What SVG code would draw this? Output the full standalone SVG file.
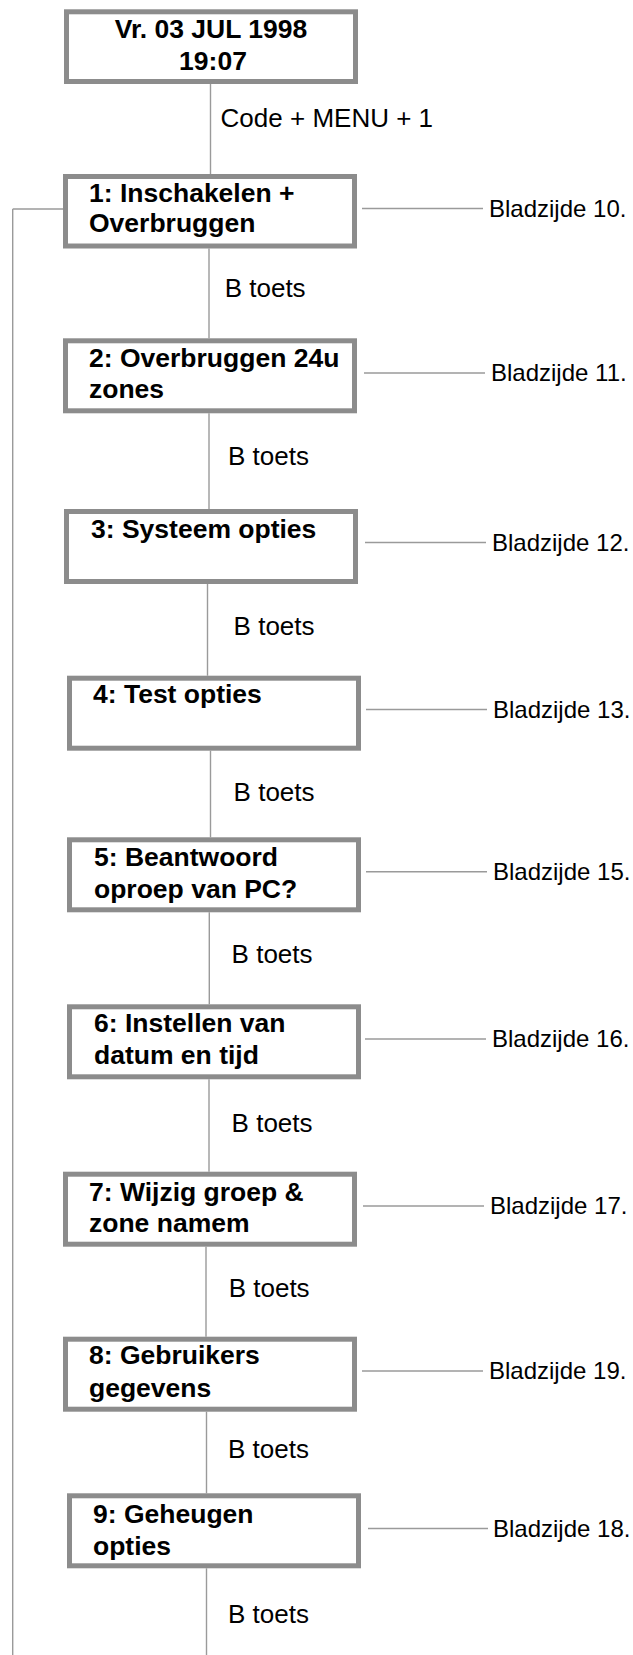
<svg xmlns="http://www.w3.org/2000/svg" width="633" height="1655" viewBox="0 0 633 1655">
<style>
.box{fill:#fff;stroke:#8c8c8c;stroke-width:5}
.ln{stroke:#9a9a9a;stroke-width:1.4;fill:none}
.t{font-family:"Liberation Sans",Arial,sans-serif;font-weight:bold;font-size:26.5px;fill:#000}
.r{font-family:"Liberation Sans",Arial,sans-serif;font-size:26px;fill:#000}
.p{font-family:"Liberation Sans",Arial,sans-serif;font-size:24px;fill:#000}
</style>
<rect width="633" height="1655" fill="#fff"/>
<g id="connectors">
<path class="ln" d="M12.7 209 V1655 M12.7 209 H63"/>
<path class="ln" d="M210.5 84 V174"/>
<path class="ln" d="M209 248.5 V338.3"/>
<path class="ln" d="M209 413.3 V509"/>
<path class="ln" d="M207.5 584 V675.7"/>
<path class="ln" d="M210.5 750.7 V837.3"/>
<path class="ln" d="M209.3 912.3 V1004.3"/>
<path class="ln" d="M209 1079.3 V1171.7"/>
<path class="ln" d="M206 1246.7 V1336.7"/>
<path class="ln" d="M206.5 1411.7 V1493.3"/>
<path class="ln" d="M206.5 1568.3 V1655"/>
<path class="ln" d="M362 208.5 H483"/>
<path class="ln" d="M364 373 H485"/>
<path class="ln" d="M365 542.5 H486"/>
<path class="ln" d="M366 709.5 H487"/>
<path class="ln" d="M366 871.7 H487"/>
<path class="ln" d="M365 1039 H486"/>
<path class="ln" d="M363 1206 H484"/>
<path class="ln" d="M362 1371 H483"/>
<path class="ln" d="M368 1528.5 H488"/>
<text class="r" x="220.6" y="126.7">Code + MENU + 1</text>
<text class="r" x="224.7" y="296.7">B toets</text>
<text class="r" x="228" y="465">B toets</text>
<text class="r" x="233.6" y="635">B toets</text>
<text class="r" x="233.6" y="800.7">B toets</text>
<text class="r" x="231.6" y="963.3">B toets</text>
<text class="r" x="231.6" y="1131.7">B toets</text>
<text class="r" x="228.7" y="1296.7">B toets</text>
<text class="r" x="228" y="1457.5">B toets</text>
<text class="r" x="228" y="1623.3">B toets</text>
</g>
<g id="n0">
<rect class="box" x="66.5" y="11.8" width="289" height="69.7"/>
<text class="t" x="211" y="38.3" text-anchor="middle">Vr. 03 JUL 1998</text>
<text class="t" x="213" y="70" text-anchor="middle">19:07</text>
</g>
<g id="n1">
<rect class="box" x="65.5" y="176.5" width="289" height="69.5"/>
<text class="t" x="89" y="201.7">1: Inschakelen +</text>
<text class="t" x="89" y="231.7">Overbruggen</text>
<text class="p" x="489" y="216.5">Bladzijde 10.</text>
</g>
<g id="n2">
<rect class="box" x="65.5" y="340.8" width="289" height="70"/>
<text class="t" x="89" y="366.7">2: Overbruggen 24u</text>
<text class="t" x="89" y="398.3">zones</text>
<text class="p" x="491" y="381">Bladzijde 11.</text>
</g>
<g id="n3">
<rect class="box" x="66.5" y="511.5" width="289" height="70"/>
<text class="t" x="91" y="538.3">3: Systeem opties</text>
<text class="p" x="492" y="550.5">Bladzijde 12.</text>
</g>
<g id="n4">
<rect class="box" x="69.5" y="678.2" width="289" height="70"/>
<text class="t" x="93" y="703.3">4: Test opties</text>
<text class="p" x="493" y="717.5">Bladzijde 13.</text>
</g>
<g id="n5">
<rect class="box" x="69.5" y="839.8" width="289" height="70"/>
<text class="t" x="94" y="865.7">5: Beantwoord</text>
<text class="t" x="94" y="898.3">oproep van PC?</text>
<text class="p" x="493" y="879.7">Bladzijde 15.</text>
</g>
<g id="n6">
<rect class="box" x="69.5" y="1006.8" width="289" height="70"/>
<text class="t" x="94" y="1032.3">6: Instellen van</text>
<text class="t" x="94" y="1064.3">datum en tijd</text>
<text class="p" x="492" y="1047">Bladzijde 16.</text>
</g>
<g id="n7">
<rect class="box" x="65.5" y="1174.2" width="289" height="70"/>
<text class="t" x="89" y="1201">7: Wijzig groep &amp;</text>
<text class="t" x="89" y="1232.3">zone namem</text>
<text class="p" x="490" y="1214">Bladzijde 17.</text>
</g>
<g id="n8">
<rect class="box" x="65.5" y="1339.2" width="289" height="70"/>
<text class="t" x="89" y="1364.3">8: Gebruikers</text>
<text class="t" x="89" y="1396.7">gegevens</text>
<text class="p" x="489" y="1379">Bladzijde 19.</text>
</g>
<g id="n9">
<rect class="box" x="69.5" y="1495.8" width="289" height="70"/>
<text class="t" x="93" y="1523.3">9: Geheugen</text>
<text class="t" x="93" y="1555">opties</text>
<text class="p" x="493" y="1536.5">Bladzijde 18.</text>
</g>
</svg>
